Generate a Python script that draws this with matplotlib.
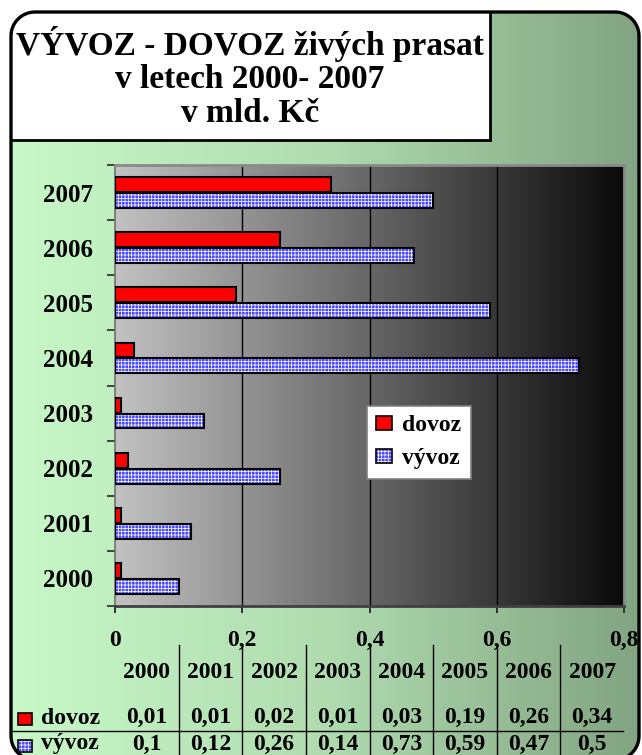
import matplotlib
matplotlib.use('Agg')
import matplotlib.pyplot as plt
import numpy as np
import matplotlib.transforms as mtrans
from matplotlib.patches import PathPatch, Rectangle, Patch
from matplotlib.path import Path
from matplotlib.legend_handler import HandlerTuple
from matplotlib.colors import LinearSegmentedColormap
from matplotlib.lines import Line2D

# ---------------- data ----------------
years = ['2000', '2001', '2002', '2003', '2004', '2005', '2006', '2007']
dovoz = [0.01, 0.01, 0.02, 0.01, 0.03, 0.19, 0.26, 0.34]
vyvoz = [0.10, 0.12, 0.26, 0.14, 0.73, 0.59, 0.47, 0.50]
dovoz_txt = ['0,01', '0,01', '0,02', '0,01', '0,03', '0,19', '0,26', '0,34']
vyvoz_txt = ['0,1', '0,12', '0,26', '0,14', '0,73', '0,59', '0,47', '0,5']
xticks = [0, 0.2, 0.4, 0.6, 0.8]
xticklabels = ['0', '0,2', '0,4', '0,6', '0,8']
title_lines = ['VÝVOZ - DOVOZ živých prasat', 'v letech 2000- 2007', 'v mld. Kč']
series_names = ['dovoz', 'vývoz']

plt.rcParams['font.family'] = ['Liberation Serif', 'DejaVu Serif']
plt.rcParams['font.weight'] = 'bold'
plt.rcParams['hatch.linewidth'] = 0.5

RED = '#ff0000'
BLUE = '#4a4aff'
HATCH = '+++++'

W, H = 642, 755
fig = plt.figure(figsize=(W / 100, H / 100), dpi=100)
fig.patch.set_facecolor('white')

# background axes in pixel coordinates (y downwards)
bg = fig.add_axes([0, 0, 1, 1], zorder=0)
bg.axis('off')
bg.set_xlim(0, W)
bg.set_ylim(H, 0)


def rounded_rect(x0, y0, x1, y1, r, n=16):
    """Rounded rectangle as a plain polyline (y grows downwards)."""
    pts = []
    corners = [((x1 - r, y0 + r), -90, 0), ((x1 - r, y1 - r), 0, 90),
               ((x0 + r, y1 - r), 90, 180), ((x0 + r, y0 + r), 180, 270)]
    for (cx, cy), a0, a1 in corners:
        t = np.radians(np.linspace(a0, a1, n))
        pts.extend(zip(cx + r * np.cos(t), cy + r * np.sin(t)))
    pts.append(pts[0])
    codes = [Path.MOVETO] + [Path.LINETO] * (len(pts) - 2) + [Path.CLOSEPOLY]
    return Path(pts, codes)


frame_path = rounded_rect(11, 12, 639, 760, 24)
frame = PathPatch(frame_path, facecolor='none', edgecolor='black', lw=2.4, zorder=20)
bg.add_patch(frame)
green = LinearSegmentedColormap.from_list('g', ['#c8f8c8', '#b0dcb0', '#82a482'])
grad = np.linspace(0, 1, 256).reshape(1, -1)
im = bg.imshow(grad, extent=(11, 639, 760, 12), aspect='auto', cmap=green, zorder=1)
im.set_clip_path(frame)

# title box
tbox = Rectangle((11, 12), 479, 128, facecolor='white', edgecolor='none', zorder=2)
bg.add_patch(tbox)
tbox.set_clip_path(frame)
bg.add_line(Line2D([490, 490], [12, 140], color='black', lw=2, zorder=3))
bg.add_line(Line2D([11, 490], [140, 140], color='black', lw=2, zorder=3))
for i, line in enumerate(title_lines):
    bg.text(250, 44 + 35 * i, line, ha='center', va='center', fontsize=24,
            fontweight='bold', color='black', zorder=4)

# ---------------- main chart ----------------
ax = fig.add_axes([115 / W, 1 - 606 / H, (624 - 115) / W, (606 - 165) / H], zorder=2)
gray = LinearSegmentedColormap.from_list('k', ['#c2c2c2', '#0a0a0a'])
ax.imshow(grad, extent=(0, 0.8, -0.5, 7.5), aspect='auto', cmap=gray, zorder=0)
for gx in xticks[1:-1]:
    ax.axvline(gx, color='black', lw=1, zorder=1)

y = np.arange(len(years))
off, hgt = 0.145, 0.27
ax.barh(y + off, dovoz, height=hgt, color=RED, edgecolor='black', lw=1.5, zorder=3)
ax.barh(y - off, vyvoz, height=hgt, color=BLUE, edgecolor='white', hatch=HATCH,
        lw=0.3, zorder=3)
ax.barh(y - off, vyvoz, height=hgt, fill=False, edgecolor='black', lw=1.5, zorder=4)

ax.set_xlim(0, 0.8)
ax.set_ylim(-0.5, 7.5)
ax.set_xticks(xticks)
ax.set_xticklabels(xticklabels, fontsize=17, fontweight='bold')
ax.set_yticks(y)
ax.set_yticklabels(years, fontsize=18, fontweight='bold')
ax.set_yticks(np.arange(-0.5, 8, 1), minor=True)
ax.tick_params(axis='y', which='major', length=0, pad=16)
ax.tick_params(axis='y', which='minor', length=6, width=1.4, color='#404040')
ax.tick_params(axis='x', length=5, width=1.4, color='#303030', pad=12)
for s in ['top', 'right']:
    ax.spines[s].set_color('#8a8a8a')
    ax.spines[s].set_linewidth(2)
ax.spines['left'].set_color('#707070')
ax.spines['left'].set_linewidth(1.2)
ax.spines['bottom'].set_color('#404040')
ax.spines['bottom'].set_linewidth(2)

# legend
h_red = Patch(facecolor=RED, edgecolor='black', lw=1.2)
h_blue = (Patch(facecolor=BLUE, edgecolor='white', hatch=HATCH, lw=0.3),
          Patch(fill=False, edgecolor='black', lw=1.2))
leg = fig.legend([h_red, h_blue], series_names, loc='upper left',
                 bbox_to_anchor=(367 / W, 1 - 406 / H), bbox_transform=fig.transFigure,
                 handler_map={tuple: HandlerTuple(ndivide=1)},
                 prop={'size': 17, 'weight': 'bold'}, fancybox=False, framealpha=1,
                 edgecolor='#808080', facecolor='white', handlelength=0.65,
                 handleheight=0.5, handletextpad=0.45, borderpad=0.4,
                 labelspacing=0.5, borderaxespad=0)
leg.set_zorder(10)
leg.get_frame().set_linewidth(1.2)

# ---------------- data table ----------------
tr = mtrans.blended_transform_factory(ax.transData, bg.transData)
ncol = len(years)
colw = 0.8 / ncol
for k in range(1, ncol):
    bg.add_line(Line2D([k * colw, k * colw], [645, 762], transform=tr,
                       color='black', lw=1, zorder=5, clip_on=False))
bg.add_line(Line2D([11, 623], [731, 731], color='black', lw=1, zorder=5))
for i in range(ncol):
    cx = (i + 0.5) * colw
    bg.text(cx, 672, years[i], transform=tr, ha='center', va='center',
            fontsize=17, fontweight='bold', zorder=6)
    bg.text(cx, 717, dovoz_txt[i], transform=tr, ha='center', va='center',
            fontsize=17, fontweight='bold', zorder=6)
    bg.text(cx, 744, vyvoz_txt[i], transform=tr, ha='center', va='center',
            fontsize=17, fontweight='bold', zorder=6)

bg.add_patch(Rectangle((18, 713), 14, 12, facecolor=RED, edgecolor='black', lw=1.2, zorder=6))
bg.add_patch(Rectangle((18, 740), 14, 12, facecolor=BLUE, edgecolor='white',
                       hatch=HATCH, lw=0.3, zorder=6))
bg.add_patch(Rectangle((18, 740), 14, 12, fill=False, edgecolor='black', lw=1.2, zorder=7))
bg.text(41, 719, series_names[0], ha='left', va='center', fontsize=17, fontweight='bold', zorder=6)
bg.text(41, 744, series_names[1], ha='left', va='center', fontsize=17, fontweight='bold', zorder=6)

bg.set_xlim(0, W)
bg.set_ylim(H, 0)

fig.savefig('out.png', dpi=100)
